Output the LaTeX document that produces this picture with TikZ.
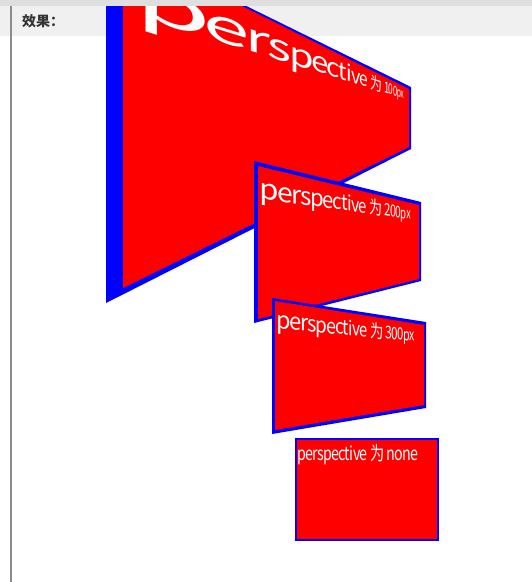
\documentclass[tikz,border=0pt]{standalone}
\usepackage{fontspec}
\newfontfamily\cjk{Noto Sans CJK SC}
\usetikzlibrary{calc}

\definecolor{bandgray}{HTML}{F0F0F0}
\definecolor{topgray}{HTML}{DFDFDF}
\definecolor{rulegray}{HTML}{8C8C8C}
\definecolor{labelgray}{HTML}{333333}

\newcommand\labelfont{\cjk\fontsize{19}{19}\selectfont}
\newcommand\txscale{0.75}

% red face of a box: left x, width, top/bottom y on the left, top/bottom y on the right, baseline
\newcommand\boxgeom[7]{%
  \def\gx{#1}\def\gw{#2}\def\gtl{#3}\def\gbl{#4}\def\gtr{#5}\def\gbr{#6}\def\gv{#7}}

\newcommand\facefill{%
  \fill[red] (\gx,\gtl) -- ({\gx+\gw},\gtr) -- ({\gx+\gw},\gbr) -- (\gx,\gbl) -- cycle;}

% glyph/advance (1/1000 em) pairs
\newcommand\wordhead{p/553,e/496,r/347,s/419,p/553,e/496,c/446,t/343,i/246,v/463,e/496,~/200,为/1000,~/200}

% one glyph after the other, mapped onto the face
\newcommand\persptext[2]{%
  \xdef\gcur{1}%
  \edef\glist{\wordhead,#2}%
  \foreach \ch/\cw [count=\gi] in \glist {%
    \pgfmathsetmacro\gcw{\cw/1000*19*\txscale}%
    \pgfmathsetmacro\gU{(\gcur+\gcw/2)/140}%
    \pgfmathsetmacro\gC{(\gbl-\gtl)/(\gbr-\gtr)-1}%
    \pgfmathsetmacro\gF{(1+\gC)*\gU/(1+\gC*\gU)}%
    \pgfmathsetmacro\gX{\gx+\gw*\gF}%
    \pgfmathsetmacro\gT{\gtl+(\gtr-\gtl)*\gF}%
    \pgfmathsetmacro\gB{\gbl+(\gbr-\gbl)*\gF}%
    \pgfmathsetmacro\gY{\gT+\gv*(\gB-\gT)}%
    \pgfmathsetmacro\gsy{(\gB-\gT)/99}%
    \pgfmathsetmacro\gsx{\gw*(1+\gC)/((1+\gC*\gU)^2)/140*\txscale}%
    \pgfmathsetmacro\gsl{-((\gtr-\gtl)+\gv*((\gbr-\gbl)-(\gtr-\gtl)))/\gw*\gsx}%
    \node[glyph, cm={\gsx,\gsl,0,\gsy,(0,0)}] (#1-\gi) at (\gX,\gY) {\ch};
    \pgfmathsetmacro\gnext{\gcur+\gcw}%
    \xdef\gcur{\gnext}%
  }}

\begin{document}
\begin{tikzpicture}[x=1pt, y=-1pt,
    glyph/.style={text=white, inner sep=0pt, outer sep=0pt, anchor=base, font=\labelfont},
    title/.style={text=labelgray, inner sep=0pt, anchor=west, font=\cjk\bfseries\fontsize{14}{14}\selectfont}
]
    \useasboundingbox (0,0) rectangle (532,582);
    \clip (0,0) rectangle (532,582);

    % --- page header ---
    \fill[bandgray] (0,6) rectangle (532,36);
    \draw[rulegray, line width=2pt] (10.5,6) -- (10.5,582);
    \node[title] (head) at (22,21) {效果：};

    % --- perspective 100px ---
    \fill[blue] (106,-63) -- (411,87) -- (411,149) -- (106,303) -- cycle;
    \boxgeom{123}{286}{-53}{288}{89}{147}{0.19}
    \facefill
    \persptext{b1}{1/497,0/497,0/497,p/553,x/443}

    % --- perspective 200px ---
    \fill[blue] (254,161) -- (421,202) -- (421,281) -- (254,323) -- cycle;
    \boxgeom{258}{161}{166}{319}{205}{279}{0.212}
    \facefill
    \persptext{b2}{2/497,0/497,0/497,p/553,x/443}

    % --- perspective 300px ---
    \fill[blue] (272,298) -- (426,322) -- (426,408) -- (272,434) -- cycle;
    \boxgeom{275}{149}{301}{430}{325}{405}{0.212}
    \facefill
    \persptext{b3}{3/497,0/497,0/497,p/553,x/443}

    % --- perspective none ---
    \fill[blue] (295,438) rectangle (439,541);
    \boxgeom{297}{140}{440}{539}{440}{539}{0.212}
    \facefill
    \persptext{b4}{n/549,o/538,n/549,e/496}

    % strip above the header
    \fill[topgray] (0,0) rectangle (532,6);
\end{tikzpicture}
\end{document}
